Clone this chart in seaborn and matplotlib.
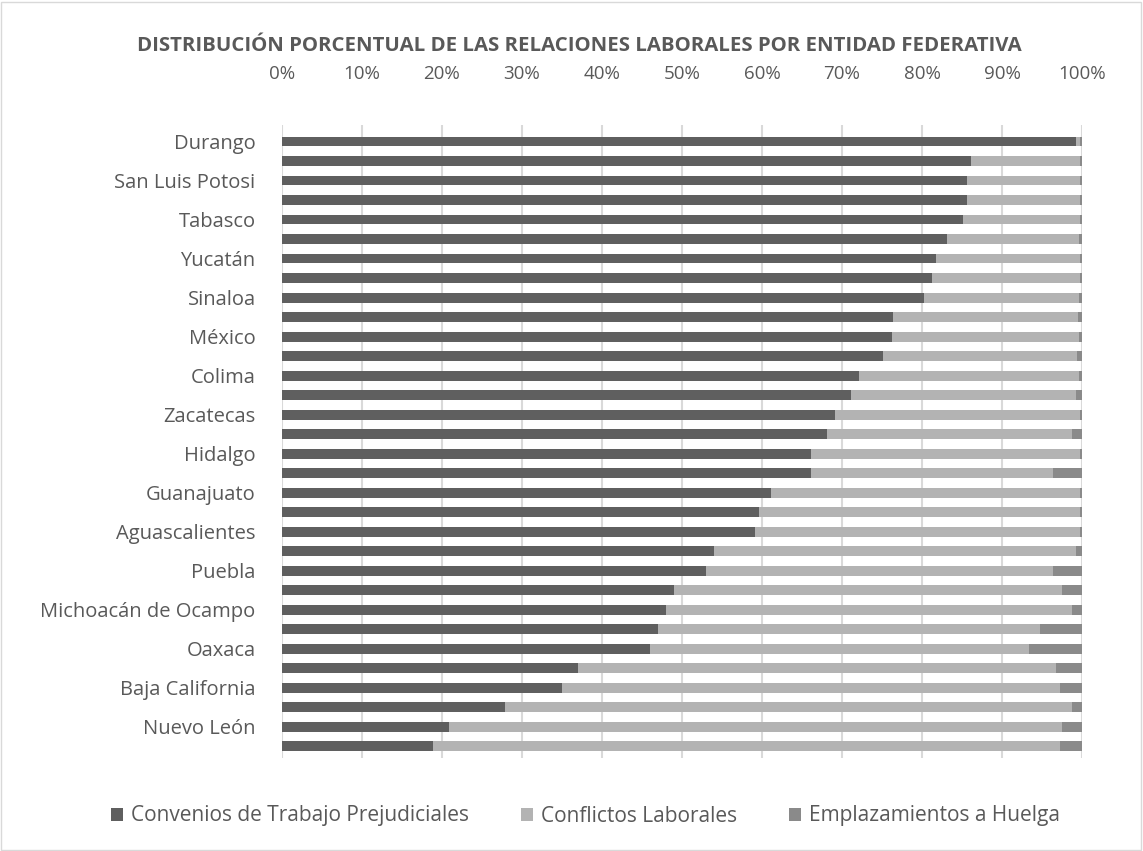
import matplotlib

matplotlib.use("Agg")
import matplotlib.pyplot as plt
import pandas as pd
import seaborn as sns
from matplotlib.patches import Patch, Rectangle

# %%
# states top -> bottom (only every other one is labelled in the chart)
states = [
    "Durango", "Campeche", "San Luis Potosi", "Chiapas", "Tabasco", "Coahuila",
    "Yucatán", "Tamaulipas", "Sinaloa", "Nayarit", "México", "Sonora",
    "Colima", "Tlaxcala", "Zacatecas", "Veracruz", "Hidalgo", "Guerrero",
    "Guanajuato", "Quintana Roo", "Aguascalientes", "Chihuahua", "Puebla", "Morelos",
    "Michoacán de Ocampo", "Jalisco", "Oaxaca", "Querétaro", "Baja California",
    "Baja California Sur", "Nuevo León", "Ciudad de México",
]
convenios = [
    99.2, 86.1, 85.6, 85.6, 85.1, 83.1, 81.7, 81.2, 80.2, 76.4, 76.2,
    75.1, 72.1, 71.1, 69.1, 68.1, 66.1, 66.1, 61.1, 59.6, 59.1, 54.0,
    53.0, 49.0, 48.0, 47.0, 46.0, 37.0, 35.0, 27.9, 20.9, 18.9,
]
huelga = [
    0.3, 0.3, 0.3, 0.3, 0.3, 0.4, 0.3, 0.3, 0.4, 0.5, 0.4,
    0.6, 0.4, 0.7, 0.3, 1.2, 0.3, 3.6, 0.3, 0.3, 0.3, 0.7,
    3.6, 2.5, 1.2, 5.2, 6.6, 3.2, 2.7, 1.2, 2.5, 2.7,
]
series = ["Convenios de Trabajo Prejudiciales", "Conflictos Laborales", "Emplazamientos a Huelga"]
colors = ["#5f5f5f", "#b3b3b3", "#8a8a8a"]
xticks = [0, 10, 20, 30, 40, 50, 60, 70, 80, 90, 100]

df = pd.DataFrame({"estado": states, "convenios": convenios, "huelga": huelga})
df["conflictos"] = 100 - df["convenios"] - df["huelga"]
df["c1"] = df["convenios"]
df["c2"] = df["convenios"] + df["conflictos"]
df["c3"] = df["c2"] + df["huelga"]

# %%
sns.set_style("white")
plt.rcParams["font.family"] = ["Open Sans", "DejaVu Sans"]
txt = "#595959"
fs = 14.5

fig = plt.figure(figsize=(11.43, 8.51), dpi=100)
ax = fig.add_axes([282 / 1143, 1 - 758 / 851, 800 / 1143, 633 / 851])

for col, c in zip(["c3", "c2", "c1"], colors[::-1]):
    sns.barplot(
        data=df, x=col, y="estado", orient="h", color=c, width=0.5,
        saturation=1, ax=ax, zorder=3, linewidth=0,
    )

ax.set_xlim(0, 100)
ax.set_ylim(len(states) - 0.4, -0.85)
ax.set_xticks(xticks)
ax.set_xticklabels([f"{t}%" for t in xticks], color=txt, fontsize=13.5)
ax.xaxis.tick_top()
ax.tick_params(axis="x", length=0, pad=30)
ax.tick_params(axis="y", length=0, pad=19)
ax.set_yticks(range(len(states)))
ax.set_yticklabels(states, color=txt, fontsize=fs)
for i, lab in enumerate(ax.get_yticklabels()):
    if i % 2 == 1:
        lab.set_visible(False)
ax.set_xlabel("")
ax.set_ylabel("")
ax.grid(axis="x", color="#d9d9d9", linewidth=1.5, zorder=0)
ax.grid(axis="y", visible=False)
sns.despine(ax=ax, left=True, bottom=True, top=True, right=True)

fig.text(0.507, 1 - 46 / 851,
         "DISTRIBUCIÓN PORCENTUAL DE LAS RELACIONES LABORALES POR ENTIDAD FEDERATIVA",
         ha="center", va="center", fontsize=14.7, fontweight="bold", color=txt)

handles = [Patch(facecolor=c, edgecolor="none", label=s) for c, s in zip(colors, series)]
leg = fig.legend(handles=handles, loc="center", bbox_to_anchor=(0.512, 1 - 816 / 851),
                 ncol=3, frameon=False, fontsize=15, handlelength=0.6, handleheight=0.6,
                 handletextpad=0.35, columnspacing=2.5)
for t in leg.get_texts():
    t.set_color(txt)

fig.patches.append(Rectangle((0.001, 0.001), 0.997, 0.997, transform=fig.transFigure,
                             fill=False, edgecolor="#d9d9d9", linewidth=1))

fig.savefig("out.png", dpi=100)
